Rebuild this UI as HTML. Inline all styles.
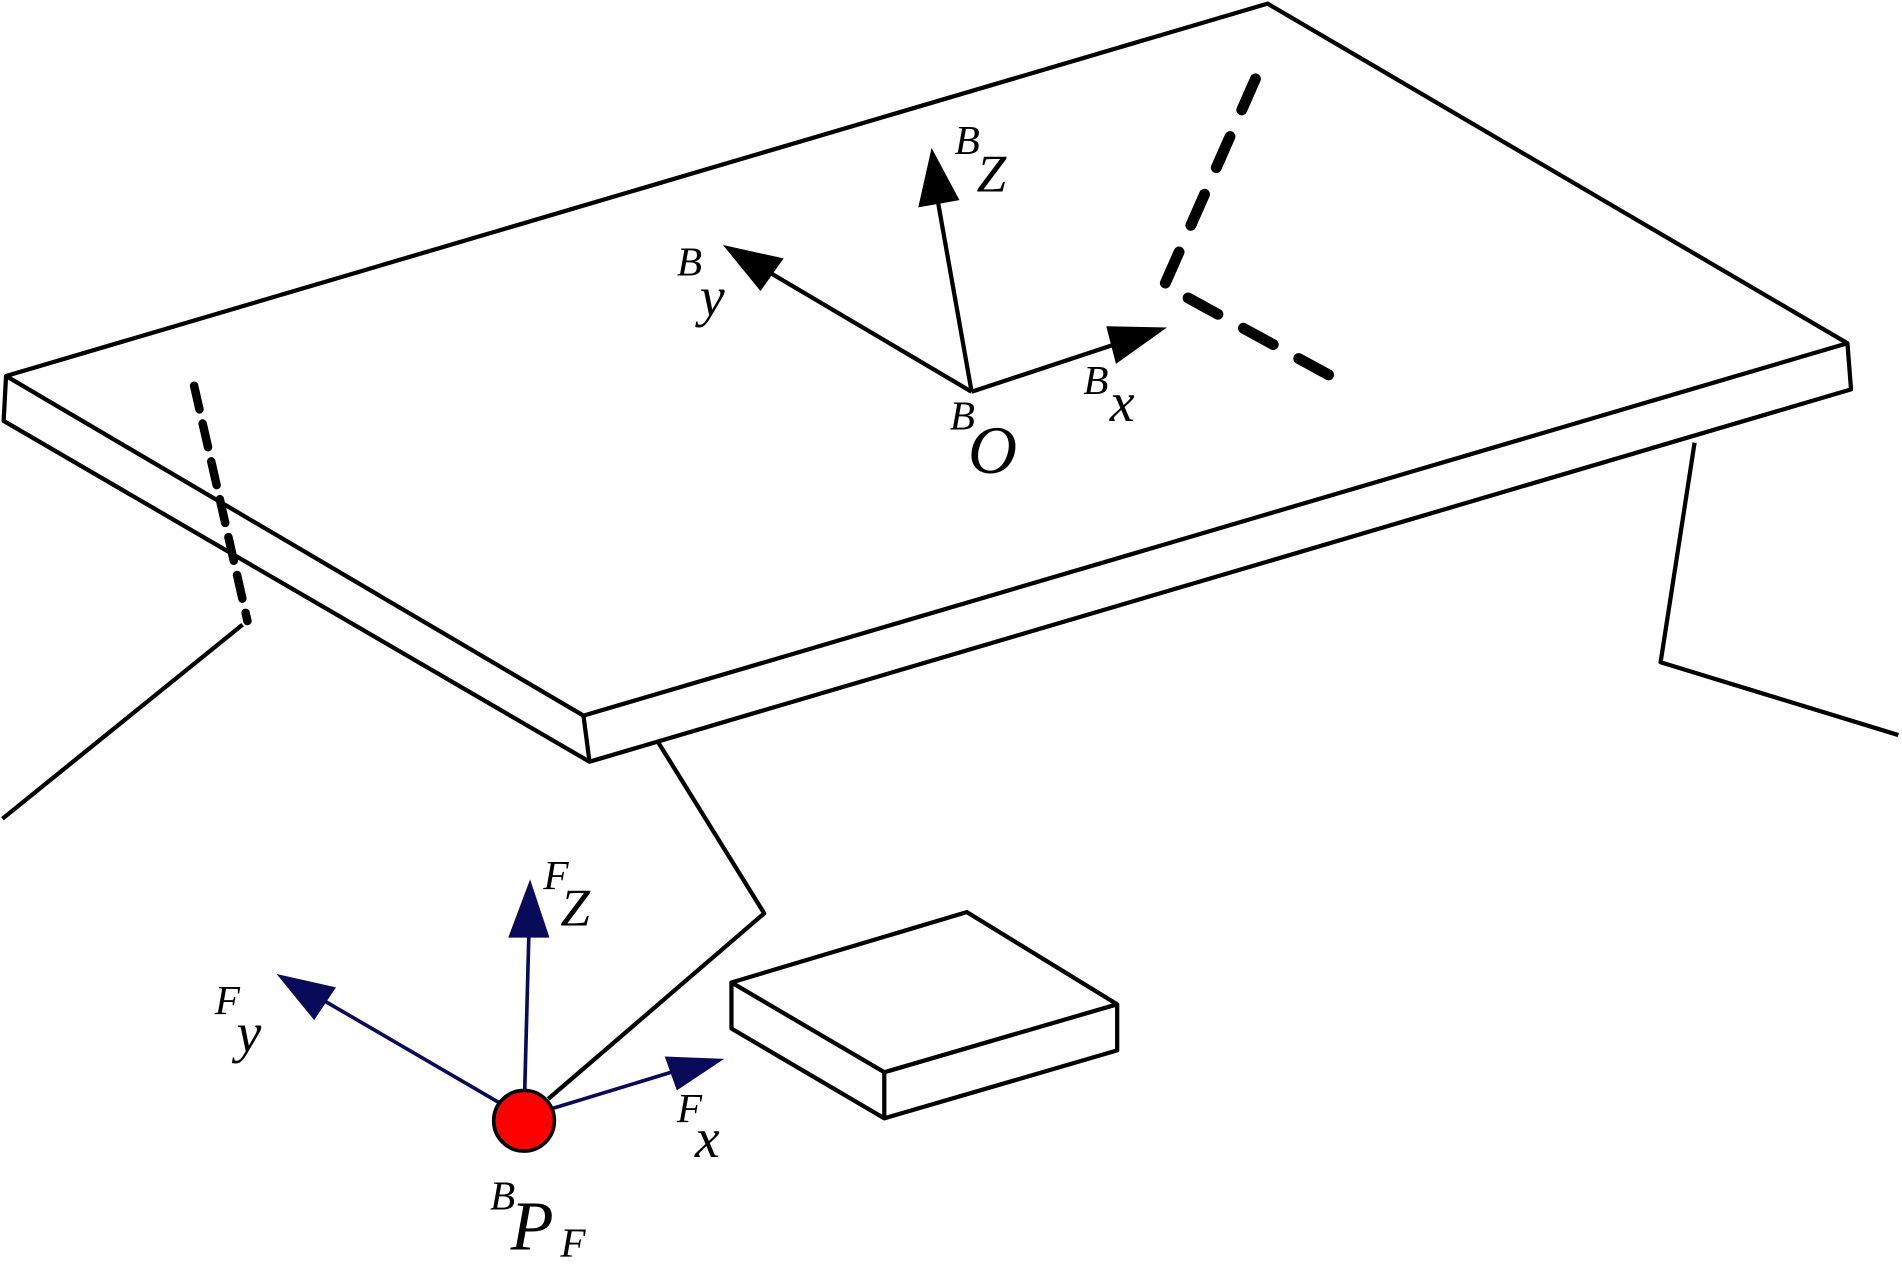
<!DOCTYPE html>
<html><head><meta charset="utf-8"><style>
html,body{margin:0;padding:0;background:#fff;}
svg{display:block;}
text{font-family:"Liberation Serif",serif;font-style:italic;fill:#000;}
</style></head><body>
<svg width="1902" height="1276" viewBox="0 0 1568 1052" preserveAspectRatio="none" xmlns="http://www.w3.org/2000/svg">
<g fill="none" stroke="#000" stroke-width="3.5" stroke-linejoin="round">
<polygon points="5,310 1045,3 1523,283 481,590"/>
<polyline points="5,310 3,347 486,628 1526,321 1523,283"/>
<line x1="481" y1="590" x2="486" y2="628"/>
<line x1="200" y1="515" x2="2" y2="675"/>
<polyline points="1397,365 1369,546 1565,606"/>
<polyline points="542,611 630,753 452,906"/>
<polygon points="603,810 797,752 921,828 729,884"/>
<polyline points="603,810 603,848 729,922 921,866 921,828"/>
<line x1="729" y1="884" x2="729" y2="922"/>
</g>
<line x1="160" y1="318" x2="204" y2="512" stroke="#000" stroke-width="7" stroke-dasharray="20,12" stroke-linecap="round"/>
<polyline points="1035,65 960,235 1097,310" fill="none" stroke="#000" stroke-width="9" stroke-dasharray="28,24" stroke-linecap="round" stroke-linejoin="round"/>
<g stroke="#000" stroke-width="3.5">
<line x1="801" y1="323" x2="773" y2="165"/>
<line x1="801" y1="323" x2="630" y2="222"/>
<line x1="801" y1="323" x2="925" y2="282"/>
</g>
<polygon points="768,122 791,165 757,171" fill="#000"/>
<polygon points="596,202 646,213 627,240" fill="#000"/>
<polygon points="962,270 920,300 912,269" fill="#000"/>
<g stroke="#0a0a5a" stroke-width="3">
<line x1="432" y1="921" x2="436" y2="770"/>
<line x1="432" y1="921" x2="262" y2="822"/>
<line x1="432" y1="921" x2="560" y2="882"/>
</g>
<polygon points="437,725 453,773 419,773" fill="#0a0a5a"/>
<polygon points="228,803 277,814 259,841" fill="#0a0a5a"/>
<polygon points="597,873 558,899 548,871" fill="#0a0a5a"/>
<circle cx="432" cy="924" r="25" fill="#f00" stroke="#000" stroke-width="3"/>
<text x="787" y="127" font-size="34">B</text><text x="805" y="158" font-size="44">Z</text>
<text x="558" y="227" font-size="34">B</text><text x="577" y="260" font-size="46">y</text>
<text x="893" y="325" font-size="34">B</text><text x="915" y="347" font-size="46">x</text>
<text x="783" y="354" font-size="34">B</text><text x="798" y="390" font-size="56">O</text>
<text x="448" y="733" font-size="34">F</text><text x="462" y="763" font-size="44">Z</text>
<text x="177" y="836" font-size="34">F</text><text x="195" y="867" font-size="46">y</text>
<text x="558" y="925" font-size="34">F</text><text x="573" y="954" font-size="46">x</text>
<text x="404" y="997" font-size="34">B</text><text x="421" y="1030" font-size="58">P</text><text x="462" y="1036" font-size="34">F</text>
</svg>
</body></html>
